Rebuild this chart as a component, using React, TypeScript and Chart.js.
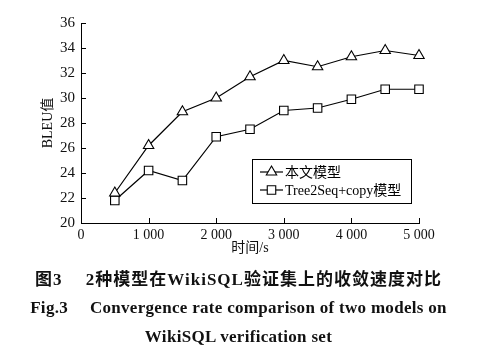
import { useEffect, useRef } from "react";
import { Chart, registerables } from "chart.js";

Chart.register(...registerables);

const times = [500, 1000, 1500, 2000, 2500, 3000, 3500, 4000, 4500, 5000];
const oursBleu = [22.4, 26.2, 28.9, 30.0, 31.7, 33.0, 32.5, 33.3, 33.8, 33.4];
const tree2seqBleu = [21.8, 24.2, 23.4, 26.9, 27.5, 29.0, 29.2, 29.9, 30.7, 30.7];
const seriesNames = ["本文模型", "Tree2Seq+copy模型"];
const seriesMarkers = ["triangle", "rect"];
const xTitle = "时间/s";
const yTitle = "BLEU值";
const captionCn = "图3\u2003 2种模型在WikiSQL验证集上的收敛速度对比";
const captionEn1 = "Fig.3\u2003 Convergence rate comparison of two models on";
const captionEn2 = "WikiSQL verification set";

const SERIF = "'Liberation Serif', 'Times New Roman', 'Noto Sans CJK SC', serif";

function fmtThousands(v: number): string {
  if (v >= 1000) {
    const k = Math.floor(v / 1000);
    const r = String(v % 1000).padStart(3, "0");
    return `${k} ${r}`;
  }
  return String(v);
}

function drawMarker(ctx: CanvasRenderingContext2D, style: string, x: number, y: number, r: number) {
  ctx.beginPath();
  if (style === "triangle") {
    const h = r * 1.5;
    const w = r * Math.sqrt(3) / 2;
    ctx.moveTo(x, y - r);
    ctx.lineTo(x + w, y - r + h);
    ctx.lineTo(x - w, y - r + h);
    ctx.closePath();
  } else {
    const s = r * Math.SQRT1_2;
    ctx.rect(x - s, y - s, 2 * s, 2 * s);
  }
  ctx.fillStyle = "#fff";
  ctx.fill();
  ctx.stroke();
}

const innerTicks = {
  id: "innerTicks",
  beforeDatasetsDraw(chart: any) {
    const { ctx, chartArea, scales } = chart;
    const x = scales.x;
    const y = scales.y;
    ctx.save();
    ctx.strokeStyle = "#000";
    ctx.lineWidth = 1;
    ctx.beginPath();
    x.ticks.forEach((t: any) => {
      const px = Math.round(x.getPixelForValue(t.value)) + 0.5;
      ctx.moveTo(px, chartArea.bottom);
      ctx.lineTo(px, chartArea.bottom - 5);
    });
    y.ticks.forEach((t: any) => {
      const py = Math.round(y.getPixelForValue(t.value)) + 0.5;
      ctx.moveTo(chartArea.left, py);
      ctx.lineTo(chartArea.left + 5, py);
    });
    ctx.stroke();
    ctx.restore();
  },
};

const boxLegend = {
  id: "boxLegend",
  afterDraw(chart: any) {
    const { ctx, chartArea } = chart;
    const left = chartArea.right - 167;
    const top = chartArea.bottom - 64;
    const w = 159;
    const h = 44;
    ctx.save();
    ctx.strokeStyle = "#000";
    ctx.lineWidth = 1;
    ctx.fillStyle = "#fff";
    ctx.fillRect(left, top, w, h);
    ctx.strokeRect(Math.round(left) + 0.5, Math.round(top) + 0.5, w, h);
    ctx.font = `14px ${SERIF}`;
    ctx.textBaseline = "middle";
    chart.data.datasets.forEach((ds: any, i: number) => {
      const cy = top + 13 + i * 18;
      ctx.strokeStyle = "#000";
      ctx.lineWidth = 1.2;
      ctx.beginPath();
      ctx.moveTo(left + 8, cy);
      ctx.lineTo(left + 31, cy);
      ctx.stroke();
      ctx.lineWidth = 1.1;
      drawMarker(ctx, ds.pointStyle, left + 19.5, cy, 6);
      ctx.fillStyle = "#000";
      ctx.fillText(ds.label, left + 33, cy + 1);
    });
    ctx.restore();
  },
};

export default function App() {
  const canvasRef = useRef<HTMLCanvasElement | null>(null);

  useEffect(() => {
    if (!canvasRef.current) return;
    const mk = (arr: number[]) => times.map((t, i) => ({ x: t, y: arr[i] }));
    const chart = new Chart(canvasRef.current, {
      type: "line",
      data: {
        datasets: [oursBleu, tree2seqBleu].map((arr, i) => ({
          label: seriesNames[i],
          data: mk(arr),
          borderColor: "#000",
          borderWidth: 1.2,
          backgroundColor: "#fff",
          pointStyle: seriesMarkers[i] as any,
          pointRadius: 6,
          pointBorderWidth: 1.1,
          pointBorderColor: "#000",
          pointBackgroundColor: "#fff",
          tension: 0,
          fill: false,
          clip: false as any,
        })),
      },
      options: {
        animation: false,
        responsive: false,
        maintainAspectRatio: false,
        layout: { padding: { left: 0, right: 58, top: 23, bottom: 99 } },
        plugins: { legend: { display: false }, tooltip: { enabled: false } },
        scales: {
          x: {
            type: "linear",
            min: 0,
            max: 5000,
            grid: { display: false, drawTicks: false },
            border: { display: true, color: "#000", width: 1 },
            ticks: {
              stepSize: 1000,
              padding: 4,
              color: "#111",
              font: { family: SERIF, size: 14 },
              callback: (v: any) => fmtThousands(Number(v)),
              maxRotation: 0,
            },
            title: {
              display: true,
              text: xTitle,
              color: "#111",
              font: { family: SERIF, size: 14 },
              padding: { top: 0, bottom: 6 },
            },
            afterFit: (s: any) => {
              s.height = 40;
            },
          },
          y: {
            min: 20,
            max: 36,
            grid: { display: false, drawTicks: false },
            border: { display: true, color: "#000", width: 1 },
            ticks: {
              stepSize: 2,
              padding: 6,
              color: "#111",
              font: { family: SERIF, size: 15 },
            },
            title: {
              display: true,
              text: yTitle,
              color: "#111",
              font: { family: SERIF, size: 14 },
              padding: { top: 40, bottom: 0 },
            },
            afterFit: (s: any) => {
              s.width = 81;
            },
          },
        },
      },
      plugins: [innerTicks, boxLegend],
    });
    return () => chart.destroy();
  }, []);

  const capStyle: any = {
    position: "absolute",
    left: 0,
    width: 477,
    textAlign: "center",
    fontFamily: SERIF,
    fontWeight: "bold",
    color: "#111",
    whiteSpace: "pre",
    lineHeight: "20px",
  };

  return (
    <div style={{ position: "absolute", left: 0, top: 0, width: 477, height: 362, background: "#fff" }}>
      <canvas ref={canvasRef} width={477} height={362} style={{ position: "absolute", left: 0, top: 0 }} />
      <div style={{ ...capStyle, top: 270, fontSize: 17, letterSpacing: 1 }}>{captionCn}</div>
      <div style={{ ...capStyle, top: 298, fontSize: 17, letterSpacing: 0.3 }}>{captionEn1}</div>
      <div style={{ ...capStyle, top: 327, fontSize: 17, letterSpacing: 0.3 }}>{captionEn2}</div>
    </div>
  );
}
